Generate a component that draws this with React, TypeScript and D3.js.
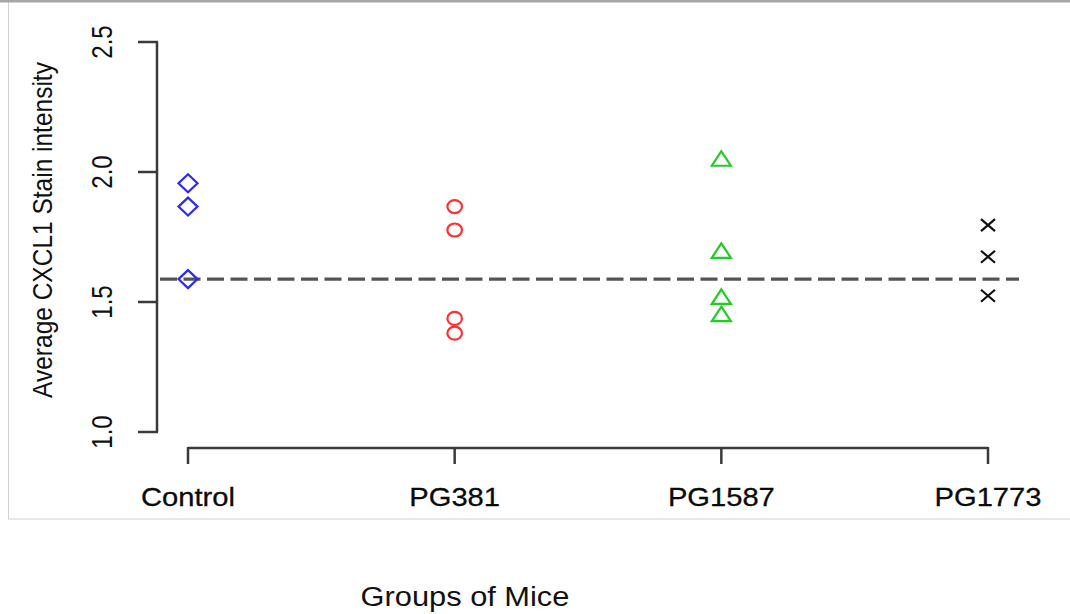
import React, { useEffect, useRef } from "react";
import * as d3 from "d3";

const groups = ["Control", "PG381", "PG1587", "PG1773"];
const controlValues = [1.957, 1.867, 1.588];
const pg381Values = [1.867, 1.777, 1.437, 1.38];
const pg1587Values = [2.051, 1.697, 1.52, 1.453];
const pg1773Values = [1.796, 1.674, 1.524];
const referenceLine = [1.588];
const yTicks = [1.0, 1.5, 2.0, 2.5];
const yLabel = "Average CXCL1 Stain intensity";
const xLabel = "Groups of Mice";

const seriesValues = [controlValues, pg381Values, pg1587Values, pg1773Values];
const colors = ["#2a2aff", "#ff3030", "#22cc22", "#111111"];
const shapes = ["diamond", "circle", "triangle", "cross"];

const W = 1070;
const H = 614;
const FONT = "'Liberation Sans', Arial, sans-serif";

export default function App() {
  const svgRef = useRef<SVGSVGElement>(null);

  useEffect(() => {
    if (!svgRef.current) return;
    const svg = d3.select(svgRef.current);
    svg.selectAll("*").remove();

    // frame of the original screenshot
    svg.append("rect").attr("x", 8.5).attr("y", 0).attr("width", W).attr("height", 519)
      .attr("fill", "none").attr("stroke", "#d2d2d2").attr("stroke-width", 1);
    svg.append("rect").attr("x", 0).attr("y", 0).attr("width", W).attr("height", 2.5).attr("fill", "#a6a6a6");

    const y = d3.scaleLinear().domain([1, 2.5]).range([432, 42]);
    const x = d3.scalePoint<string>().domain(groups).range([188, 988]);
    const axisColor = "#3a3a3a";

    // y axis
    const ya = svg.append("g");
    ya.append("line").attr("x1", 157).attr("x2", 157).attr("y1", y(1)).attr("y2", y(2.5))
      .attr("stroke", axisColor).attr("stroke-width", 2.5);
    ya.selectAll(".yt").data(yTicks).enter().append("line")
      .attr("x1", 138).attr("x2", 158).attr("y1", (d) => y(d)).attr("y2", (d) => y(d))
      .attr("stroke", axisColor).attr("stroke-width", 2.5);
    ya.selectAll(".yl").data(yTicks).enter().append("text")
      .attr("transform", (d) => `translate(112,${y(d)}) scale(1.2,1) rotate(-90)`)
      .attr("text-anchor", "middle")
      .style("font-family", FONT).style("font-size", "24px").attr("fill", "#111")
      .text((d) => d.toFixed(1));

    // x axis
    const xa = svg.append("g");
    xa.append("line").attr("x1", x(groups[0])!).attr("x2", x(groups[3])!).attr("y1", 448).attr("y2", 448)
      .attr("stroke", axisColor).attr("stroke-width", 2.5);
    xa.selectAll(".xt").data(groups).enter().append("line")
      .attr("x1", (d) => x(d)!).attr("x2", (d) => x(d)!).attr("y1", 447).attr("y2", 464)
      .attr("stroke", axisColor).attr("stroke-width", 2.5);
    xa.selectAll(".xl").data(groups).enter().append("text")
      .attr("transform", (d) => `translate(${x(d)},506) scale(1.1,1)`)
      .attr("text-anchor", "middle")
      .style("font-family", FONT).style("font-size", "26.5px").attr("fill", "#0a0a0a")
      .style("stroke", "#0a0a0a").style("stroke-width", "0.3px")
      .text((d) => d);

    // reference line
    svg.selectAll(".ref").data(referenceLine).enter().append("line")
      .attr("x1", 160).attr("x2", 1019).attr("y1", (d) => y(d)).attr("y2", (d) => y(d))
      .attr("stroke", "#555").attr("stroke-width", 3.2).attr("stroke-dasharray", "17,6.5");

    // points
    seriesValues.forEach((vals, gi) => {
      const cx = x(groups[gi])!;
      const g = svg.append("g").attr("fill", "none").attr("stroke", colors[gi]).attr("stroke-width", 2.2);
      vals.forEach((v) => {
        const cy = y(v);
        const s = shapes[gi];
        if (s === "diamond") {
          g.append("path").attr("d", `M${cx},${cy - 9}L${cx + 9.5},${cy}L${cx},${cy + 9}L${cx - 9.5},${cy}Z`);
        } else if (s === "circle") {
          g.append("ellipse").attr("cx", cx).attr("cy", cy).attr("rx", 7.3).attr("ry", 6.5);
        } else if (s === "triangle") {
          g.append("path").attr("d", `M${cx},${cy - 7.5}L${cx + 9.5},${cy + 7}L${cx - 9.5},${cy + 7}Z`);
        } else {
          g.append("path").attr("d", `M${cx - 7},${cy - 6}L${cx + 7},${cy + 6}M${cx - 7},${cy + 6}L${cx + 7},${cy - 6}`);
        }
      });
    });

    // axis titles
    svg.append("text")
      .attr("transform", `translate(52,230) scale(1.15,1) rotate(-90)`)
      .attr("text-anchor", "middle")
      .style("font-family", FONT).style("font-size", "24.5px").attr("fill", "#111")
      .text(yLabel);
    svg.append("text")
      .attr("transform", `translate(465,606) scale(1.1,1)`)
      .attr("text-anchor", "middle")
      .style("font-family", FONT).style("font-size", "28px").attr("fill", "#111")
      .text(xLabel);
  }, []);

  return (
    <>
      <style>{"body{margin:0;}"}</style>
      <svg ref={svgRef} width={W} height={H} style={{ display: "block", background: "#fff" }} />
    </>
  );
}
